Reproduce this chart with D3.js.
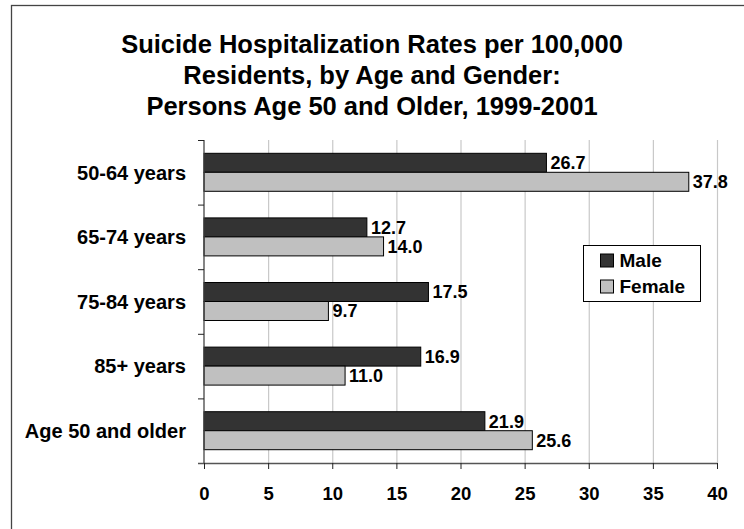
<!DOCTYPE html>
<html>
<head>
<meta charset="utf-8">
<script src="https://cdn.jsdelivr.net/npm/d3@7"></script>
<style>
  html, body { margin: 0; padding: 0; background: #fff; }
  svg { display: block; font-family: "Liberation Sans", Arial, Helvetica, sans-serif; font-weight: bold; }
</style>
</head>
<body>
<svg id="chart" width="744" height="529"></svg>
<script>
// Suicide hospitalization rates per 100,000 residents, 1999-2001
const categories = ["50-64 years", "65-74 years", "75-84 years", "85+ years", "Age 50 and older"];
const series = ["Male", "Female"];
const maleRates = [26.7, 12.7, 17.5, 16.9, 21.9];
const femaleRates = [37.8, 14.0, 9.7, 11.0, 25.6];
const xTicks = [0, 5, 10, 15, 20, 25, 30, 35, 40];
const titleLines = [
  "Suicide Hospitalization Rates per 100,000",
  "Residents, by Age and Gender:",
  "Persons Age 50 and Older, 1999-2001"
];

const colors = { Male: "#333333", Female: "#c0c0c0" };
const values = { Male: maleRates, Female: femaleRates };

const svg = d3.select("#chart");

// outer frame (runs past the right and bottom edges)
svg.append("rect")
  .attr("x", 11.5).attr("y", 5.5)
  .attr("width", 900).attr("height", 700)
  .attr("fill", "none").attr("stroke", "#444").attr("stroke-width", 1.3);

// title
svg.append("g").selectAll("text").data(titleLines).join("text")
  .attr("x", 372)
  .attr("y", (d, i) => 53 + i * 31)
  .attr("text-anchor", "middle")
  .attr("font-size", 25.5)
  .attr("fill", "#000")
  .text(d => d);

const plot = { left: 204, right: 717, top: 140, bottom: 463 };

const x = d3.scaleLinear().domain([0, 40]).range([plot.left, plot.right]);
const y0 = d3.scaleBand().domain(categories).range([plot.top, plot.bottom]);
const pad = y0.bandwidth() * 0.206;
const y1 = d3.scaleBand().domain(series).range([pad, y0.bandwidth() - pad]);

// vertical gridlines
svg.append("g").selectAll("line").data(xTicks.filter(t => t > 0)).join("line")
  .attr("x1", d => x(d) + 0.5).attr("x2", d => x(d) + 0.5)
  .attr("y1", plot.top).attr("y2", plot.bottom)
  .attr("stroke", "#c8c8c8").attr("stroke-width", 1.2);

// bars
const groups = svg.append("g").selectAll("g").data(categories).join("g")
  .attr("transform", d => `translate(0,${y0(d)})`);

groups.selectAll("rect")
  .data((c, i) => series.map(s => ({ s, v: values[s][i] })))
  .join("rect")
  .attr("x", x(0))
  .attr("y", d => y1(d.s))
  .attr("width", d => x(d.v) - x(0))
  .attr("height", y1.bandwidth())
  .attr("fill", d => colors[d.s])
  .attr("stroke", "#000").attr("stroke-width", 1);

// value labels
groups.selectAll("text")
  .data((c, i) => series.map(s => ({ s, v: values[s][i] })))
  .join("text")
  .attr("x", d => x(d.v) + 4)
  .attr("y", d => y1(d.s) + y1.bandwidth() / 2)
  .attr("dy", "0.36em")
  .attr("font-size", 18)
  .attr("fill", "#000")
  .text(d => d.v.toFixed(1));

// x axis
const xAxis = svg.append("g")
  .attr("transform", `translate(0,${plot.bottom})`)
  .call(d3.axisBottom(x).tickValues(xTicks).tickSize(6).tickPadding(18).tickSizeOuter(0));
xAxis.select(".domain").attr("stroke", "#555").attr("stroke-width", 1.3)
  .attr("d", `M${plot.left - 6},0.5H${plot.right}`);
xAxis.selectAll(".tick line").attr("stroke", "#222");
xAxis.selectAll(".tick text")
  .attr("font-size", 18.5).attr("font-family", null).attr("font-weight", "bold").attr("fill", "#000");

// y axis: ticks at category boundaries
const yAxis = svg.append("g").attr("transform", `translate(${plot.left},0)`);
yAxis.append("line")
  .attr("x1", 0).attr("x2", 0).attr("y1", plot.top).attr("y2", plot.bottom)
  .attr("stroke", "#444").attr("stroke-width", 1.3);
const boundaries = categories.map(c => y0(c));
yAxis.selectAll("line.tk").data(boundaries).join("line").attr("class", "tk")
  .attr("x1", -6).attr("x2", 0)
  .attr("y1", d => d + 0.5).attr("y2", d => d + 0.5)
  .attr("stroke", "#222");
yAxis.selectAll("text").data(categories).join("text")
  .attr("x", -18)
  .attr("y", d => y0(d) + y0.bandwidth() / 2)
  .attr("dy", "0.36em")
  .attr("text-anchor", "end")
  .attr("font-size", 20)
  .attr("fill", "#000")
  .text(d => d);

// legend
const legend = svg.append("g").attr("transform", "translate(583.5,245.5)");
legend.append("rect")
  .attr("width", 117).attr("height", 56)
  .attr("fill", "#fff").attr("stroke", "#000").attr("stroke-width", 1);
const items = legend.selectAll("g").data(series).join("g")
  .attr("transform", (d, i) => `translate(17,${8.5 + i * 26})`);
items.append("rect")
  .attr("width", 13).attr("height", 13)
  .attr("fill", d => colors[d]).attr("stroke", "#000");
items.append("text")
  .attr("x", 19).attr("y", 6.5).attr("dy", "0.36em")
  .attr("font-size", 19).attr("fill", "#000")
  .text(d => d);
</script>
</body>
</html>
